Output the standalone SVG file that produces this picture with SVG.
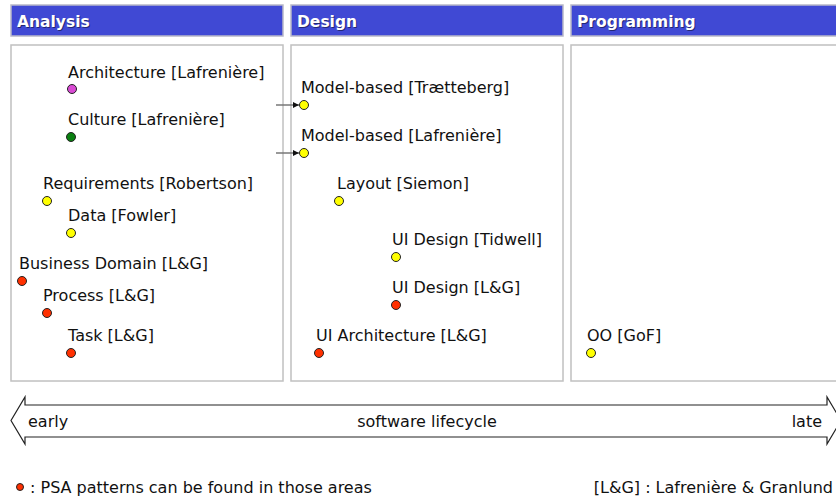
<svg xmlns="http://www.w3.org/2000/svg" width="836" height="498" viewBox="0 0 836 498">
<defs>
<style>
.hdr{fill:#4049D4;stroke:#b8b8c8;stroke-width:1.5}
.hdrt{font-family:"DejaVu Sans",sans-serif;font-weight:bold;font-size:15.5px;fill:#fff}
.hdrs{font-family:"DejaVu Sans",sans-serif;font-weight:bold;font-size:15.5px;fill:#000;opacity:0.45}
.panel{fill:#fff;stroke:#c0c0c0;stroke-width:1.5}
.lbl{font-family:"DejaVu Sans",sans-serif;font-size:16px;fill:#111}
.dot{stroke:#222;stroke-width:1}
.y{fill:#ffff00}
.r{fill:#ff3000}
.m{fill:#d94ad4}
.g{fill:#0a7f10}
.conn{stroke:#777;stroke-width:1.5;fill:none}
</style>
<marker id="ah" markerWidth="6" markerHeight="6" refX="6" refY="3" orient="auto" markerUnits="userSpaceOnUse">
<path d="M0,0 L6,3 L0,6 z" fill="#111"/>
</marker>
</defs>
<rect width="836" height="498" fill="#fff"/>

<g id="header-analysis">
<rect class="hdr" x="11" y="5" width="272" height="31"/>
<text class="hdrs" x="18" y="28">Analysis</text>
<text class="hdrt" x="17" y="27">Analysis</text>
</g>
<g id="header-design">
<rect class="hdr" x="291" y="5" width="272" height="31"/>
<text class="hdrs" x="298" y="28">Design</text>
<text class="hdrt" x="297" y="27">Design</text>
</g>
<g id="header-programming">
<rect class="hdr" x="571" y="5" width="280" height="31"/>
<text class="hdrs" x="578" y="28">Programming</text>
<text class="hdrt" x="577" y="27">Programming</text>
</g>

<g id="panel-analysis"><rect class="panel" x="11" y="45" width="272" height="336"/></g>
<g id="panel-design"><rect class="panel" x="291" y="45" width="272" height="336"/></g>
<g id="panel-programming"><rect class="panel" x="571" y="45" width="280" height="336"/></g>

<g id="connectors">
<line class="conn" x1="276" y1="105" x2="299" y2="105" marker-end="url(#ah)"/>
<line class="conn" x1="276" y1="153" x2="299" y2="153" marker-end="url(#ah)"/>
</g>

<g id="n-architecture"><text class="lbl" x="68" y="78">Architecture [Lafrenière]</text><circle class="dot m" cx="72" cy="89" r="4.5"/></g>
<g id="n-culture"><text class="lbl" x="68" y="125">Culture [Lafrenière]</text><circle class="dot g" cx="71" cy="137" r="4.5"/></g>
<g id="n-requirements"><text class="lbl" x="43" y="189">Requirements [Robertson]</text><circle class="dot y" cx="47" cy="201" r="4.5"/></g>
<g id="n-data"><text class="lbl" x="68" y="221">Data [Fowler]</text><circle class="dot y" cx="71" cy="233" r="4.5"/></g>
<g id="n-business"><text class="lbl" x="19" y="269">Business Domain [L&amp;G]</text><circle class="dot r" cx="22" cy="281" r="4.5"/></g>
<g id="n-process"><text class="lbl" x="43" y="301">Process [L&amp;G]</text><circle class="dot r" cx="47" cy="313" r="4.5"/></g>
<g id="n-task"><text class="lbl" x="68" y="341">Task [L&amp;G]</text><circle class="dot r" cx="71" cy="353" r="4.5"/></g>

<g id="n-model-traetteberg"><text class="lbl" x="301" y="93">Model-based [Trætteberg]</text><circle class="dot y" cx="304" cy="105" r="4.5"/></g>
<g id="n-model-lafreniere"><text class="lbl" x="301" y="141">Model-based [Lafrenière]</text><circle class="dot y" cx="304" cy="153" r="4.5"/></g>
<g id="n-layout"><text class="lbl" x="337" y="189">Layout [Siemon]</text><circle class="dot y" cx="339" cy="201" r="4.5"/></g>
<g id="n-ui-tidwell"><text class="lbl" x="392" y="245">UI Design [Tidwell]</text><circle class="dot y" cx="396" cy="257" r="4.5"/></g>
<g id="n-ui-lg"><text class="lbl" x="392" y="293">UI Design [L&amp;G]</text><circle class="dot r" cx="396" cy="305" r="4.5"/></g>
<g id="n-ui-arch"><text class="lbl" x="316" y="341">UI Architecture [L&amp;G]</text><circle class="dot r" cx="319" cy="353" r="4.5"/></g>

<g id="n-oo"><text class="lbl" x="587" y="341">OO [GoF]</text><circle class="dot y" cx="591" cy="353" r="4.5"/></g>

<g id="lifecycle">
<path d="M11,420.5 L25,397 L25,405 L827,405 L827,397 L841,420.5 L827,444 L827,437 L25,437 L25,444 Z" fill="#fff" stroke="#222" stroke-width="1.2"/>
<text class="lbl" x="28" y="427">early</text>
<text class="lbl" x="427" y="427" text-anchor="middle">software lifecycle</text>
<text class="lbl" x="822" y="427" text-anchor="end">late</text>
</g>

<g id="legend">
<circle class="dot r" cx="20" cy="487" r="3.5"/>
<text class="lbl" x="30" y="493">: PSA patterns can be found in those areas</text>
<text class="lbl" x="833" y="493" text-anchor="end">[L&amp;G] : Lafrenière &amp; Granlund</text>
</g>
</svg>
